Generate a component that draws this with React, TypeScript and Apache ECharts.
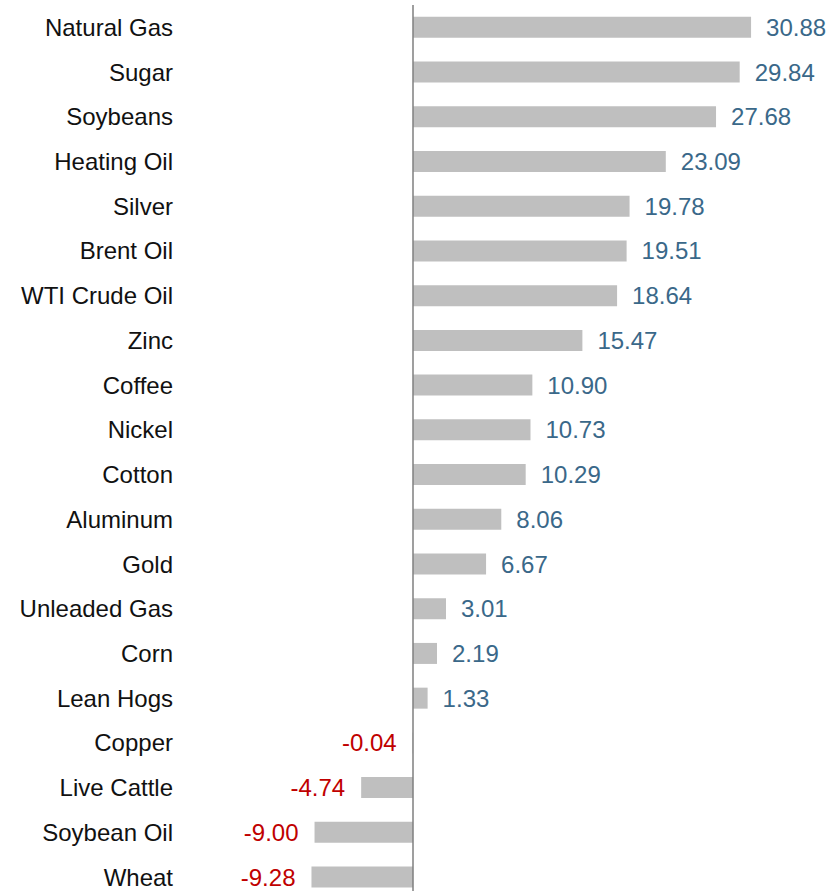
import React, { useEffect, useRef } from "react";
import * as echarts from "echarts";

const categories = [
  "Natural Gas", "Sugar", "Soybeans", "Heating Oil", "Silver", "Brent Oil",
  "WTI Crude Oil", "Zinc", "Coffee", "Nickel", "Cotton", "Aluminum", "Gold",
  "Unleaded Gas", "Corn", "Lean Hogs", "Copper", "Live Cattle", "Soybean Oil", "Wheat",
];
const values = [
  30.88, 29.84, 27.68, 23.09, 19.78, 19.51, 18.64, 15.47, 10.9, 10.73, 10.29,
  8.06, 6.67, 3.01, 2.19, 1.33, -0.04, -4.74, -9.0, -9.28,
];

const POS_COLOR = "#3a6889";
const NEG_COLOR = "#c00000";
const FONT = "Liberation Sans";

export default function App() {
  const ref = useRef<HTMLDivElement>(null);
  useEffect(() => {
    if (!ref.current) return;
    const chart = echarts.init(ref.current, null, { renderer: "svg" });
    chart.setOption({
      animation: false,
      backgroundColor: "#ffffff",
      grid: { left: 181, right: 9, top: 5, height: 894.4, containLabel: false },
      xAxis: {
        type: "value",
        min: -21.2,
        max: 38,
        show: false,
        splitLine: { show: false },
      },
      yAxis: {
        type: "category",
        data: categories,
        inverse: true,
        axisLine: { show: false, onZero: false },
        axisTick: { show: false },
        axisLabel: {
          margin: 8,
          fontSize: 24,
          color: "#111111",
          fontFamily: FONT,
        },
      },
      series: [
        {
          type: "bar",
          barWidth: 21,
          itemStyle: { color: "#bfbfbf" },
          data: values.map((v) => ({
            value: v,
            label: {
              show: true,
              position: v >= 0 ? "right" : "left",
              distance: v >= 0 ? 15 : 16,
              color: v >= 0 ? POS_COLOR : NEG_COLOR,
              fontSize: 24,
              fontFamily: FONT,
              formatter: (p: any) => Number(p.value).toFixed(2),
            },
          })),
          markLine: {
            silent: true,
            symbol: "none",
            label: { show: false },
            lineStyle: { color: "#7f7f7f", width: 1.5, type: "solid" },
            data: [{ xAxis: 0 }],
          },
        },
      ],
    });
    return () => chart.dispose();
  }, []);
  return (
    <div
      ref={ref}
      style={{ position: "absolute", left: 0, top: 0, width: 838, height: 900 }}
    />
  );
}
